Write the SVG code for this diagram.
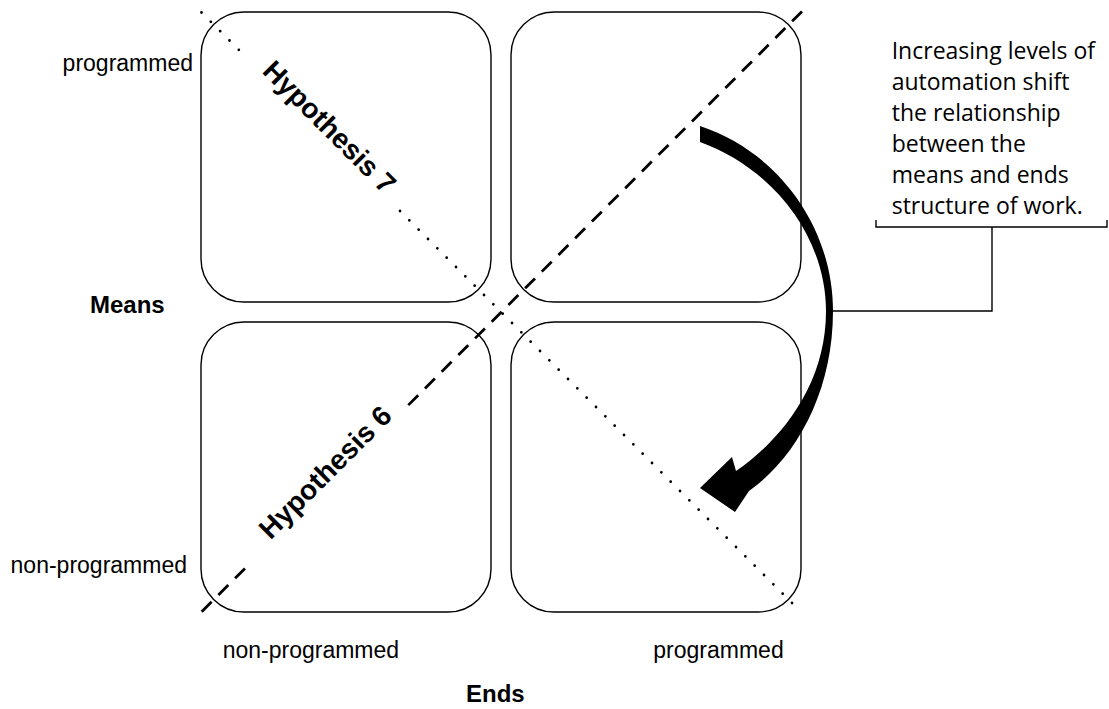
<svg xmlns="http://www.w3.org/2000/svg" width="1109" height="709" viewBox="0 0 1109 709">
<style>
.box{fill:#fff;stroke:#000;stroke-width:1.4}
.lbl{font-family:"Liberation Sans",Arial,sans-serif;font-size:23px;fill:#000}
.bold{font-family:"Liberation Sans",Arial,sans-serif;font-weight:bold;fill:#000}
.note{font-family:"Open Sans","Noto Sans",sans-serif;font-size:23px;fill:#000}
.dot{fill:none;stroke:#000;stroke-width:2.8;stroke-linecap:round;stroke-dasharray:0 13.2}
.dash{fill:none;stroke:#000;stroke-width:2.8;stroke-dasharray:14 9.6}
.thin{fill:none;stroke:#000;stroke-width:1.4}
</style>
<rect width="1109" height="709" fill="#fff"/>
<g id="box-tl"><rect class="box" x="201" y="12" width="290" height="290" rx="43"/></g>
<g id="box-tr"><rect class="box" x="511" y="12" width="290" height="290" rx="43"/></g>
<g id="box-bl"><rect class="box" x="201" y="322" width="290" height="290" rx="43"/></g>
<g id="box-br"><rect class="box" x="511" y="322" width="290" height="290" rx="43"/></g>
<g id="connectors">
<path class="dot" d="M201.5,12.5 L240,51"/>
<path class="dot" d="M400,211 L797,608"/>
<path class="dash" d="M201.7,611.7 L250,563.4"/>
<path class="dash" d="M802,11.4 L405,408.4"/>
<path id="shift-arrow" fill="#000" d="M700,126 C779,152 833,228 833,311 C833,392 796,458 749,491 L735,512 L700,488 L732,457 L736,471 C781,440 826,385 826,311 C826,236 772,168 700,142 Z"/>
<path class="thin" d="M876,220 L876,227 L1107,227 L1107,220 M992,227 L992,311 L832,311"/>
</g>
<g id="hyp7"><text class="bold" font-size="28" x="322.75" y="133.75" text-anchor="middle" transform="rotate(45 322.75 133.75)">Hypothesis 7</text></g>
<g id="hyp6"><text class="bold" font-size="28" x="332" y="479" text-anchor="middle" transform="rotate(-45 332 479)">Hypothesis 6</text></g>
<g id="axis-labels">
<text class="lbl" x="193" y="71" text-anchor="end">programmed</text>
<text class="lbl" x="187" y="573" text-anchor="end">non-programmed</text>
<text class="lbl" x="222.7" y="658.3">non-programmed</text>
<text class="lbl" x="653.3" y="658.3">programmed</text>
<text class="bold" font-size="24" x="90" y="313.3">Means</text>
<text class="bold" font-size="24" x="466" y="702">Ends</text>
</g>
<g id="note">
<text class="note" x="891.7">
<tspan x="891.7" y="58.5">Increasing levels of</tspan>
<tspan x="891.7" y="89.5">automation shift</tspan>
<tspan x="891.7" y="120.5">the relationship</tspan>
<tspan x="891.7" y="151.5">between the</tspan>
<tspan x="891.7" y="182.5">means and ends</tspan>
<tspan x="891.7" y="213.5">structure of work.</tspan>
</text>
</g>
</svg>
